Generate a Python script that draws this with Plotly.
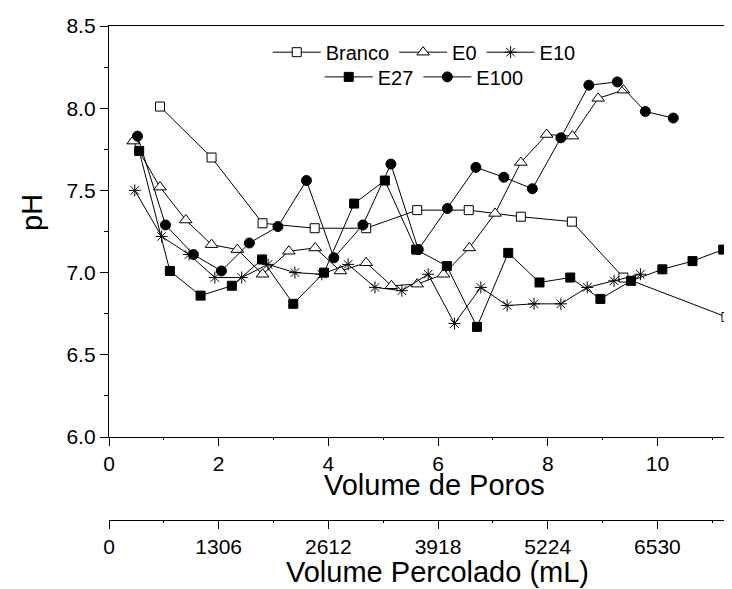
import plotly.graph_objects as go

# ---- data ----
branco_x = [0.93, 1.87, 2.80, 3.75, 4.69, 5.62, 6.56, 7.51, 8.44, 9.38, 11.26]
branco_y = [8.01, 7.70, 7.30, 7.27, 7.27, 7.38, 7.38, 7.34, 7.31, 6.97, 6.73]

e0_x = [0.44, 0.93, 1.40, 1.87, 2.34, 2.80, 3.28, 3.76, 4.22, 4.69, 5.15, 5.62,
        6.10, 6.57, 7.04, 7.51, 7.98, 8.45, 8.92, 9.38]
e0_y = [7.80, 7.52, 7.32, 7.17, 7.14, 6.99, 7.13, 7.15, 7.01, 7.06, 6.92, 6.93,
        6.99, 7.15, 7.36, 7.67, 7.84, 7.83, 8.06, 8.11]

e10_x = [0.47, 0.96, 1.46, 1.93, 2.42, 2.90, 3.39, 3.88, 4.36, 4.85, 5.34, 5.82,
         6.30, 6.78, 7.26, 7.75, 8.24, 8.72, 9.21, 9.69]
e10_y = [7.50, 7.22, 7.11, 6.97, 6.97, 7.05, 7.00, 6.99, 7.05, 6.91, 6.89, 6.99,
         6.69, 6.91, 6.80, 6.81, 6.81, 6.91, 6.95, 6.99]

e27_x = [0.55, 1.11, 1.67, 2.24, 2.79, 3.36, 3.92, 4.47, 5.03, 5.60, 6.16, 6.71,
         7.28, 7.85, 8.41, 8.96, 9.52, 10.09, 10.64, 11.20]
e27_y = [7.74, 7.01, 6.86, 6.92, 7.08, 6.81, 7.00, 7.42, 7.56, 7.14, 7.04, 6.67,
         7.12, 6.94, 6.97, 6.84, 6.95, 7.02, 7.07, 7.14]

e100_x = [0.52, 1.03, 1.54, 2.05, 2.56, 3.08, 3.60, 4.10, 4.63, 5.14, 5.64, 6.17,
          6.69, 7.20, 7.72, 8.24, 8.75, 9.27, 9.78, 10.29]
e100_y = [7.83, 7.29, 7.11, 7.01, 7.18, 7.28, 7.56, 7.09, 7.29, 7.66, 7.14, 7.39,
          7.64, 7.58, 7.51, 7.82, 8.14, 8.16, 7.98, 7.94]

x_ticks = [0, 2, 4, 6, 8, 10]
ml_per_pore_volume = 653
ml_ticks = [v * ml_per_pore_volume for v in x_ticks]   # 0, 1306, ... 6530
y_ticks = [6.0, 6.5, 7.0, 7.5, 8.0, 8.5]

x_range = [0, 11.36]
y_range = [6.0, 8.5]

FONT = "Arial, Liberation Sans, sans-serif"

fig = go.Figure()

def add(name, xs, ys, symbol, size, fill, legend):
    fig.add_trace(go.Scatter(
        x=xs, y=ys, name=name, mode="lines+markers",
        line=dict(color="black", width=1),
        marker=dict(symbol=symbol, size=size, color=fill,
                    line=dict(color="black", width=1)),
        legend=legend,
    ))

add("Branco", branco_x, branco_y, "square", 9, "white", "legend")
add("E0", e0_x, e0_y, "triangle-up", 11, "white", "legend")
add("E10", e10_x, e10_y, "asterisk-open", 10, "black", "legend")
add("E27", e27_x, e27_y, "square", 9, "black", "legend2")
add("E100", e100_x, e100_y, "circle", 10, "black", "legend2")

# invisible trace bound to the secondary (mL) axis
fig.add_trace(go.Scatter(x=[x_range[0] * ml_per_pore_volume, x_range[1] * ml_per_pore_volume],
                         y=[None, None], xaxis="x2", mode="markers",
                         showlegend=False, hoverinfo="skip"))

axis_common = dict(showgrid=False, zeroline=False, showline=True, linecolor="black",
                   linewidth=1.3, ticks="outside", tickcolor="black", ticklen=8,
                   tickwidth=1.2, tickfont=dict(family=FONT, size=21, color="black"))

fig.update_layout(
    width=724, height=581,
    margin=dict(l=101, r=0, t=18, b=69),
    paper_bgcolor="white", plot_bgcolor="white",
    font=dict(family=FONT, color="black"),
    xaxis=dict(range=x_range, tickvals=x_ticks, anchor="y", mirror=True,
               minor=dict(dtick=1, ticklen=2, ticks="outside", tickcolor="black"),
               **axis_common),
    xaxis2=dict(range=[x_range[0] * ml_per_pore_volume, x_range[1] * ml_per_pore_volume],
                tickvals=ml_ticks, ticktext=[str(v) for v in ml_ticks],
                anchor="free", position=0, overlaying="x", side="bottom",
                minor=dict(dtick=ml_per_pore_volume, ticklen=2, ticks="outside", tickcolor="black"),
                **axis_common),
    yaxis=dict(range=y_range, tickvals=y_ticks, tickformat=".1f", domain=[0.168, 1],
               minor=dict(dtick=0.25, ticklen=4, ticks="outside", tickcolor="black"),
               **axis_common),
    legend=dict(orientation="h", x=0.506, xanchor="center", y=0.947, yanchor="middle",
                font=dict(family=FONT, size=20, color="black"), bgcolor="rgba(0,0,0,0)",
                itemwidth=48, traceorder="normal"),
    legend2=dict(orientation="h", x=0.506, xanchor="center", y=0.897, yanchor="middle",
                 font=dict(family=FONT, size=20, color="black"), bgcolor="rgba(0,0,0,0)",
                 itemwidth=48, traceorder="normal"),
    showlegend=True,
    annotations=[
        dict(text="Volume de Poros", xref="paper", yref="paper", x=0.523, y=0.071,
             xanchor="center", yanchor="middle", showarrow=False,
             font=dict(family=FONT, size=29, color="black")),
        dict(text="Volume Percolado (mL)", xref="paper", yref="paper", x=0.528, y=-0.106,
             xanchor="center", yanchor="middle", showarrow=False,
             font=dict(family=FONT, size=29, color="black")),
        dict(text="pH", xref="paper", yref="paper", x=-0.124, y=0.623, textangle=-90,
             xanchor="center", yanchor="middle", showarrow=False,
             font=dict(family=FONT, size=29, color="black")),
    ],
)

fig.write_html("out.html")
